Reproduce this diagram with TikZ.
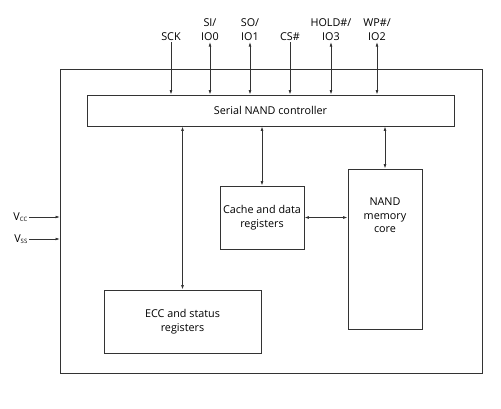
\documentclass[tikz,border=0pt]{standalone}
\usepackage{fontspec}
\setmainfont{Open Sans}
\usetikzlibrary{arrows.meta,positioning}

\begin{document}
\begin{tikzpicture}[
      x=1pt, y=-1pt,
      box/.style={draw=black!80, line width=0.8pt, inner sep=0pt, align=center, font=\fontsize{10.8}{13.5}\selectfont},
      pin/.style={inner sep=1pt, anchor=south, align=center, font=\fontsize{10.8}{14}\selectfont},
      sig/.style={black!80, line width=0.7pt, -{Latex[length=4.5pt,width=2.8pt]}},
      bus/.style={black!80, line width=0.7pt, {Latex[length=4.5pt,width=2.8pt]}-{Latex[length=4.5pt,width=2.8pt]}}
    ]
    \useasboundingbox (0,0) rectangle (501,408);

    % Device outline
    \draw[black!80, line width=0.8pt] (60,69) rectangle (482,373);

    % Blocks
    \node[box, minimum width=367pt, minimum height=31pt] (ctrl) at (270.5,110.5) {Serial NAND controller};
    \node[box, minimum width=84pt, minimum height=63pt] (cache) at (262,217.5) {Cache and data\\registers};
    \node[box, minimum width=74pt, minimum height=160pt,
          label={[font=\fontsize{10.8}{13.5}\selectfont, align=center, anchor=north, yshift=-26pt]north:NAND\\memory\\core}] (nand) at (385,249) {};
    \node[box, minimum width=157pt, minimum height=63pt] (ecc) at (182.5,321.5) {ECC and status\\registers};

    % Pins on top
    \node[pin] (sck)  at (171,42) {SCK};
    \node[pin] (io0)  at (210,42) {SI/\\IO0};
    \node[pin] (io1)  at (250,42) {SO/\\IO1};
    \node[pin] (cs)   at (290,42) {CS\#};
    \node[pin] (io3)  at (331,42) {HOLD\#/\\IO3};
    \node[pin] (io2)  at (377,42) {WP\#/\\IO2};

    \foreach \p in {sck,cs} {
      \draw[sig] (\p.south) -- (\p.south |- ctrl.north);
    }
    \foreach \p in {io0,io1,io3,io2} {
      \draw[bus] (\p.south) -- (\p.south |- ctrl.north);
    }

    % Supply pins
    \node[inner sep=1pt, anchor=east, font=\fontsize{10.8}{13}\selectfont] (vcc) at (29,217) {V\textsubscript{\fontsize{6}{7}\selectfont CC}};
    \node[inner sep=1pt, anchor=east, font=\fontsize{10.8}{13}\selectfont] (vss) at (29,239) {V\textsubscript{\fontsize{6}{7}\selectfont SS}};
    \coordinate (vccin) at (60,217);
    \coordinate (vssin) at (60,239);
    \draw[sig] (vcc) -- (vccin);
    \draw[sig] (vss) -- (vssin);

    % Internal paths
    \draw[bus] (ctrl.south -| ecc.north) -- (ecc.north);
    \draw[bus] (ctrl.south -| cache.north) -- (cache.north);
    \draw[bus] (ctrl.south -| nand.north) -- (nand.north);
    \draw[bus] (cache.east) -- (cache.east -| nand.west);
  \end{tikzpicture}
\end{document}
